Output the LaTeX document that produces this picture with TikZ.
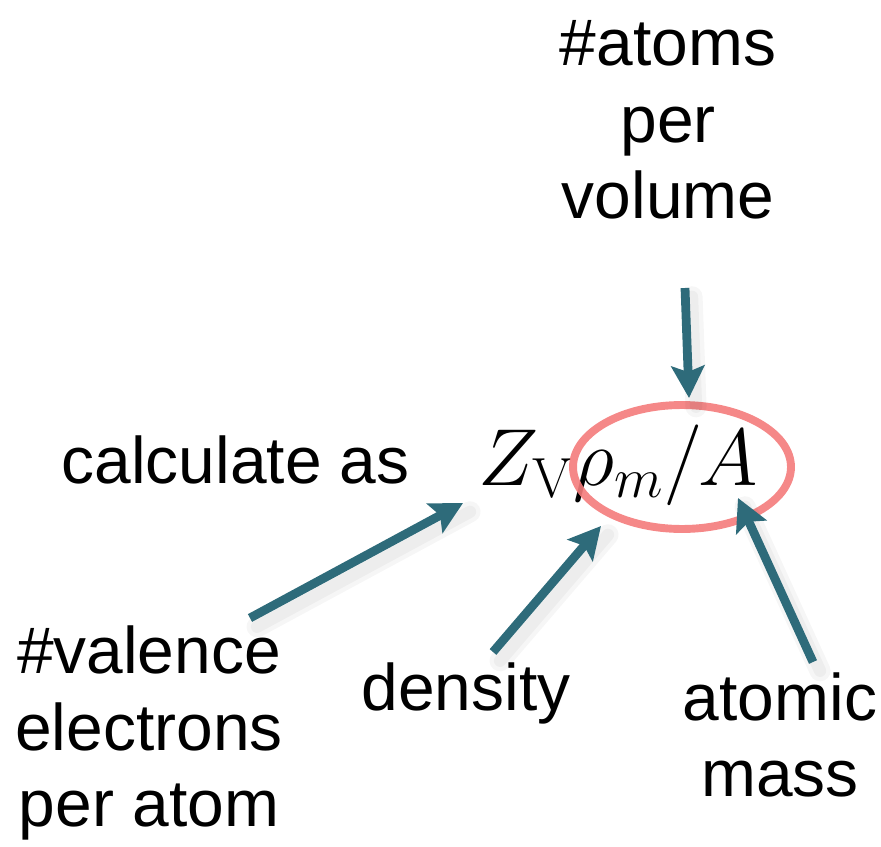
\RequirePackage{fix-cm}
\documentclass[tikz,border=0pt]{standalone}
\usepackage[no-math]{fontspec}
\setmainfont{Liberation Sans}
\usepackage{tikz}
\usetikzlibrary{positioning,arrows.meta,shapes.geometric}
\definecolor{pointer}{HTML}{2E6B7A}
\definecolor{ring}{HTML}{F47B7B}
\tikzset{
  word/.style={font=\fontsize{37.5}{43.7}\selectfont, inner sep=0pt, align=center},
  formula/.style={font=\fontsize{46}{52}\selectfont, inner sep=0pt},
  arr/.style={-{Stealth[length=6.4mm, width=6.6mm, inset=1.2mm]}, line width=5pt, draw=pointer},
  shade/.style={line width=12pt, draw=black, draw opacity=0.035, line cap=round},
  halo/.style={ellipse, draw=ring, draw opacity=0.9, line width=4.5pt,
               minimum width=4.36cm, minimum height=2.48cm, inner sep=0pt},
}

\begin{document}
\begin{tikzpicture}[x=0.02cm, y=-0.02cm]
    \useasboundingbox (0,0) rectangle (881,847);

    %% --- formula and its ring ---
    \node[formula, anchor=base west] (expr) at (478,485) {$Z_{\mathrm{V}}\rho_m/A$};
    \node[word, anchor=base east] (calc) at (410,483) {calculate as};
    \node[halo] (ring) at (682,467) {};

    %% --- labels ---
    \node[word] (atoms) at (668,120) {\#atoms\\per\\volume};
    \node[word] (valence) at (149,733) {\#valence\\electrons\\per atom};
    \node[word, anchor=base] (dens) at (466,710) {density};
    \node[word] (mass) at (780,735) {atomic\\mass};

    %% --- arrow ends ---
    \coordinate (atomsend) at (685,288);
    \coordinate (atomstip) at (689,398);
    \coordinate (valend) at (250,618);
    \coordinate (valtip) at (463,503);
    \coordinate (densend) at (493,652);
    \coordinate (denstip) at (601,526);
    \coordinate (massend) at (813,662);
    \coordinate (masstip) at (738,498);

    %% --- soft shadows ---
    \foreach \a/\b in {atomsend/atomstip, valend/valtip, densend/denstip, massend/masstip}{
      \draw[shade, transform canvas={shift={(4pt,-5pt)}}] (\a) -- (\b);
      \draw[shade, line width=7pt, transform canvas={shift={(4pt,-5pt)}}] (\a) -- (\b);
    }

    %% --- arrows ---
    \draw[arr] (atomsend) -- (atomstip);
    \draw[arr] (valend) -- (valtip);
    \draw[arr] (densend) -- (denstip);
    \draw[arr] (massend) -- (masstip);
\end{tikzpicture}
\end{document}
